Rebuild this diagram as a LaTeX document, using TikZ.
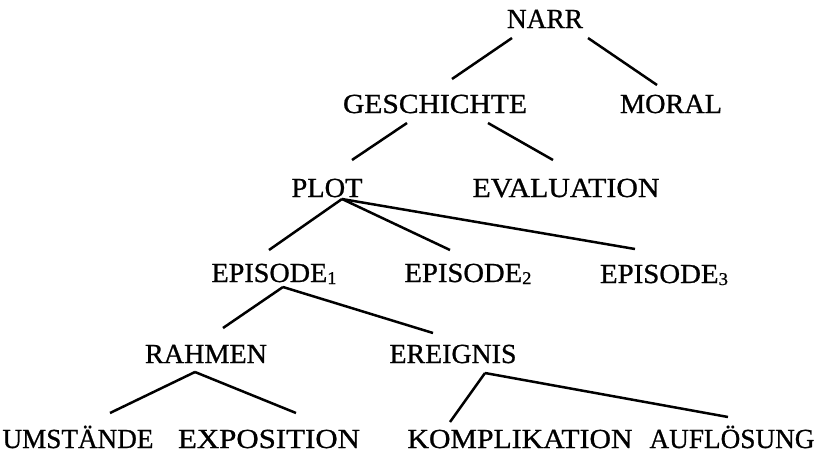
\documentclass[tikz,border=0pt]{standalone}
\usepackage{fontspec}
\setmainfont{Liberation Serif}
\newfontfamily\labfont[FakeBold=0.8]{Liberation Serif}
\newcommand{\lbw}[2]{\resizebox{#1pt}{\height}{#2}}
\newcommand{\subn}[1]{\raisebox{-2pt}{\fontsize{18}{18}\selectfont #1}}
\begin{document}
\begin{tikzpicture}[x=1pt,y=-1pt,
  lab/.style={anchor=base,inner sep=0pt,font=\labfont\fontsize{27.6}{30}\selectfont},
  edge/.style={line width=2.5pt}]
\useasboundingbox (0,0) rectangle (821,456);
\node[lab] (narr) at (545,28) {\lbw{76}{NARR}};
\node[lab] (gesch) at (435,113) {\lbw{184}{GESCHICHTE}};
\node[lab] (moral) at (671,113) {\lbw{102}{MORAL}};
\node[lab] (plot) at (327,197) {\lbw{71}{PLOT}};
\node[lab] (eval) at (566,197) {\lbw{187}{EVALUATION}};
\node[lab] (epi1) at (274,282) {\lbw{125}{EPISODE\subn{1}}};
\node[lab] (epi2) at (468,282) {\lbw{127}{EPISODE\subn{2}}};
\node[lab] (epi3) at (664,283) {\lbw{128}{EPISODE\subn{3}}};
\node[lab] (rahmen) at (206,363) {\lbw{122}{RAHMEN}};
\node[lab] (ereig) at (453,363) {\lbw{127}{EREIGNIS}};
\node[lab] (umst) at (78,448) {\lbw{151}{UMSTÄNDE}};
\node[lab] (expo) at (269,448) {\lbw{182}{EXPOSITION}};
\node[lab] (komp) at (520,448) {\lbw{225}{KOMPLIKATION}};
\node[lab] (aufl) at (732,448) {\lbw{165}{AUFLÖSUNG}};
\draw[edge] ([shift={(-33,10)}]narr.base) -- ([shift={(17,-34)}]gesch.base);
\draw[edge] ([shift={(43,10)}]narr.base) -- ([shift={(-14,-28)}]moral.base);
\draw[edge] ([shift={(-28,10)}]gesch.base) -- ([shift={(25,-37)}]plot.base);
\draw[edge] ([shift={(53,10)}]gesch.base) -- ([shift={(-13,-37)}]eval.base);
\draw[edge] ([shift={(15,2)}]plot.base) -- ([shift={(-5,-32)}]epi1.base);
\draw[edge] ([shift={(15,2)}]plot.base) -- ([shift={(-18,-32)}]epi2.base);
\draw[edge] ([shift={(15,2)}]plot.base) -- ([shift={(-29,-34)}]epi3.base);
\draw[edge] ([shift={(9,5)}]epi1.base) -- ([shift={(17,-35)}]rahmen.base);
\draw[edge] ([shift={(9,5)}]epi1.base) -- ([shift={(-20,-30)}]ereig.base);
\draw[edge] ([shift={(-11,9)}]rahmen.base) -- ([shift={(32,-35)}]umst.base);
\draw[edge] ([shift={(-11,9)}]rahmen.base) -- ([shift={(27,-35)}]expo.base);
\draw[edge] ([shift={(32,10)}]ereig.base) -- ([shift={(-70,-26)}]komp.base);
\draw[edge] ([shift={(32,10)}]ereig.base) -- ([shift={(-4,-31)}]aufl.base);
\end{tikzpicture}
\end{document}
